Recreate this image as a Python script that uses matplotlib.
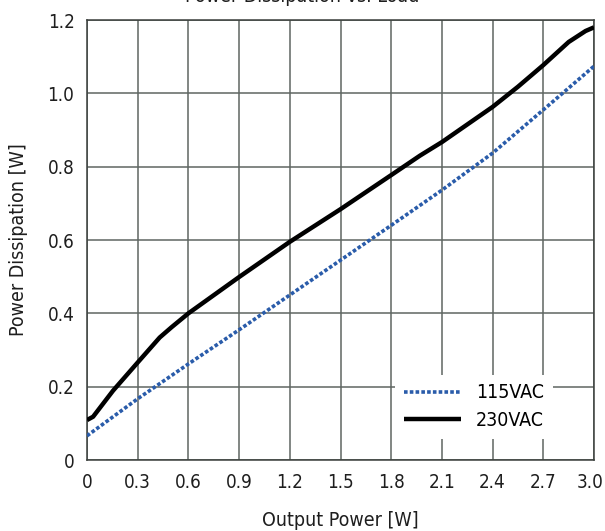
import matplotlib
matplotlib.use("Agg")
import matplotlib.pyplot as plt
from matplotlib.transforms import ScaledTranslation

# condensed sans to get close to the narrow Helvetica of the reference
plt.rcParams["font.family"] = ["DejaVu Sans"]
plt.rcParams["font.stretch"] = "condensed"

# data
p_out_230 = [0.0, 0.036, 0.154, 0.3, 0.43, 0.5, 0.6, 0.9, 1.2, 1.5, 1.8, 1.97, 2.1, 2.4, 2.55, 2.7, 2.85, 2.95, 3.0]
p_dis_230 = [0.109, 0.118, 0.189, 0.266, 0.334, 0.362, 0.40, 0.499, 0.595, 0.684, 0.777, 0.83, 0.867, 0.963, 1.018, 1.077, 1.14, 1.17, 1.18]

p_out_115 = [0.0, 0.3, 0.6, 0.9, 1.2, 1.5, 1.8, 2.1, 2.4, 2.7, 3.0]
p_dis_115 = [0.066, 0.167, 0.262, 0.355, 0.45, 0.545, 0.64, 0.736, 0.837, 0.955, 1.074]

x_ticks = [0, 0.3, 0.6, 0.9, 1.2, 1.5, 1.8, 2.1, 2.4, 2.7, 3.0]
x_labels = ["0", "0.3", "0.6", "0.9", "1.2", "1.5", "1.8", "2.1", "2.4", "2.7", "3.0"]
y_ticks = [0, 0.2, 0.4, 0.6, 0.8, 1.0, 1.2]
y_labels = ["0", "0.2", "0.4", "0.6", "0.8", "1.0", "1.2"]

TXT = "#1e1e1e"

fig = plt.figure(figsize=(6.05, 5.31), dpi=100)
ax = fig.add_axes([87 / 605, 71 / 531, 507 / 605, 440 / 531])

ax.plot(p_out_115, p_dis_115, color="#2a5caa", linestyle=(0, (1, 0.6)),
        linewidth=2.6, label="115VAC", zorder=3)
ax.plot(p_out_230, p_dis_230, color="black", linewidth=3.2,
        label="230VAC", zorder=3, solid_capstyle="butt")

ax.set_xlim(0, 3.0)
ax.set_ylim(0, 1.2)
ax.set_xticks(x_ticks)
ax.set_xticklabels(x_labels)
ax.set_yticks(y_ticks)
ax.set_yticklabels(y_labels)
ax.tick_params(length=0, labelsize=13.5, colors=TXT, pad=9)
ax.grid(True, color="#5f6662", linewidth=1.1)
ax.set_axisbelow(True)
for s in ax.spines.values():
    s.set_color("#3a3f3c")
    s.set_linewidth(1.1)

# last x label sits against the right edge, nudge it in a bit
last = ax.get_xticklabels()[-1]
last.set_transform(last.get_transform() + ScaledTranslation(-4 / 100, 0, fig.dpi_scale_trans))

ax.set_xlabel("Output Power [W]", fontsize=14, color=TXT, labelpad=14)
ax.set_ylabel("Power Dissipation [W]", fontsize=14, color=TXT, labelpad=14)

leg = ax.legend(loc="lower right", bbox_to_anchor=(0.919, 0.048), frameon=True,
                fancybox=False, edgecolor="white", framealpha=1.0,
                fontsize=14, handlelength=2.9, handletextpad=0.8,
                borderpad=0.45, borderaxespad=0, labelspacing=0.45)
leg.get_frame().set_linewidth(0)

# title, clipped off the top of the picture
fig.text(0.5, 1 - 1.5 / 531, "Power Dissipation vs. Load", ha="center",
         va="baseline", fontsize=14, color=TXT)

fig.savefig("out.png", dpi=100)
